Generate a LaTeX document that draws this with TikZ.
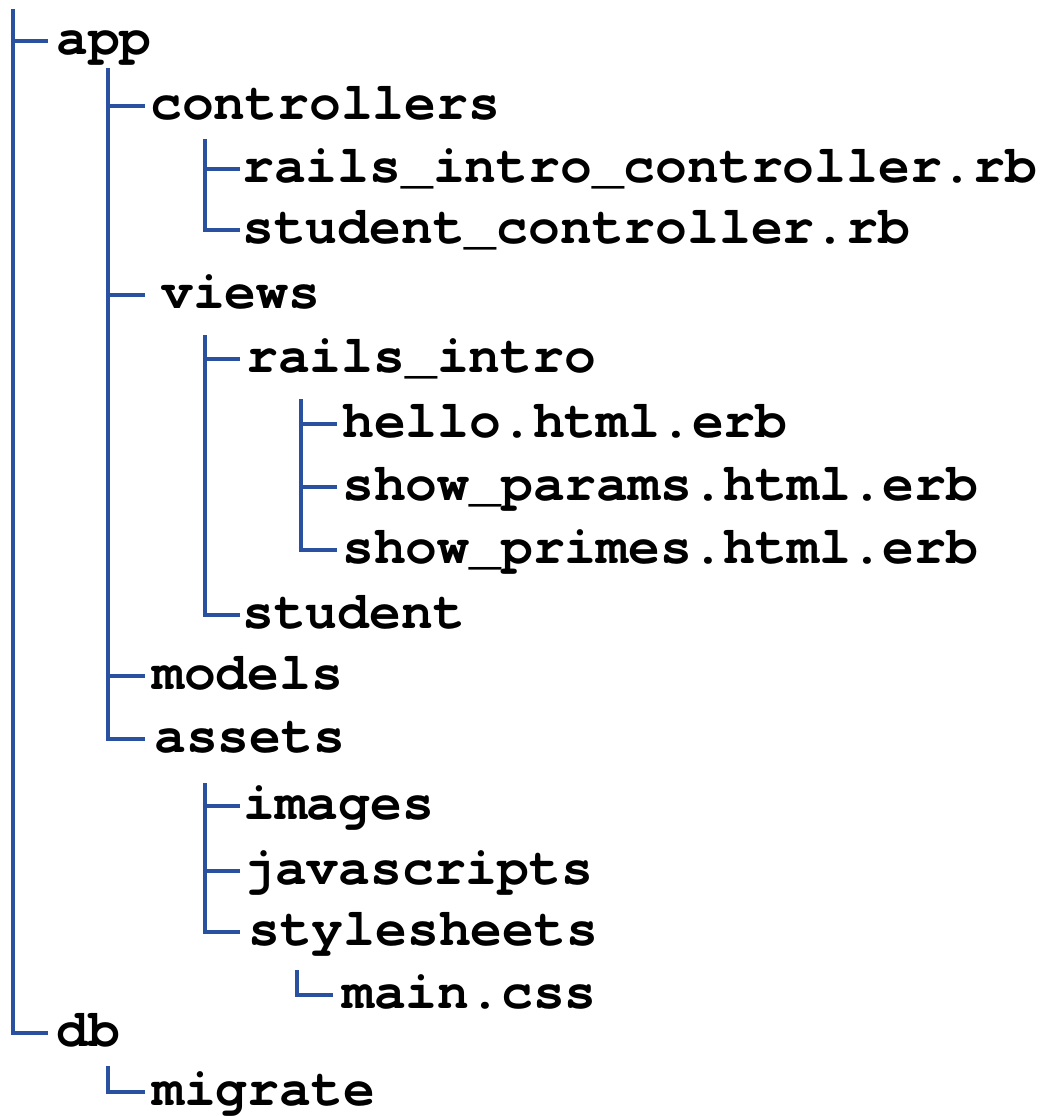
\documentclass[tikz,border=0pt]{standalone}
\usepackage{fontspec}
\setmonofont{texgyrecursor}[Extension=.otf,UprightFont=*-regular,BoldFont=*-bold]
\definecolor{treeblue}{HTML}{2A50A0}
\begin{document}
\begin{tikzpicture}[x=1pt,y=-1pt,
  item/.style={anchor=west,inner ysep=0pt,inner xsep=3pt,text height=37pt,text depth=10.5pt,
    font=\ttfamily\bfseries\fontsize{53}{60}\selectfont},
  branch/.style={draw=treeblue,line width=3.2pt,line join=miter}]
\useasboundingbox (0,0) rectangle (1046,1116);
% trunk tops
\coordinate (t0) at (13,9);
\coordinate (t1) at (108,68);
\coordinate (t2) at (205,139);
\coordinate (t3) at (205,335);
\coordinate (t4) at (301,399);
\coordinate (t5) at (205,783);
\coordinate (t6) at (297,970);
\coordinate (t7) at (108,1066);
% items
\node[item,inner xsep=8pt] (app) at (48,41) {app};
\node[item,inner xsep=5pt] (controllers) at (145,106) {controllers};
\node[item,inner xsep=2pt] (ric) at (240,169) {rails\_intro\_controller.rb};
\node[item,inner xsep=2pt] (sc) at (240,230) {student\_controller.rb};
\node[item,inner xsep=16pt] (views) at (145,295) {views};
\node[item,inner xsep=6pt] (ri) at (240,359) {rails\_intro};
\node[item,inner xsep=5pt] (hello) at (337,424) {hello.html.erb};
\node[item,inner xsep=5pt] (sp) at (337,487) {show\_params.html.erb};
\node[item,inner xsep=5pt] (spr) at (337,550) {show\_primes.html.erb};
\node[item,inner xsep=2pt] (student) at (240,615) {student};
\node[item,inner xsep=7pt] (models) at (145,676) {models};
\node[item,inner xsep=9pt] (assets) at (145,739) {assets};
\node[item,inner xsep=3pt] (images) at (240,806) {images};
\node[item,inner xsep=3pt] (js) at (240,871) {javascripts};
\node[item,inner xsep=8pt] (ss) at (240,932) {stylesheets};
\node[item,inner xsep=9pt] (css) at (333,995) {main.css};
\node[item,inner xsep=8pt] (db) at (48,1033) {db};
\node[item,inner xsep=7pt] (migrate) at (145,1092) {migrate};
% connectors
\draw[branch] (t0) |- (app.west);
\draw[branch] (t0) |- (db.west);
\draw[branch] (t1) |- (controllers.west);
\draw[branch] (t1) |- (views.west);
\draw[branch] (t1) |- (models.west);
\draw[branch] (t1) |- (assets.west);
\draw[branch] (t2) |- (ric.west);
\draw[branch] (t2) |- (sc.west);
\draw[branch] (t3) |- (ri.west);
\draw[branch] (t3) |- (student.west);
\draw[branch] (t4) |- (hello.west);
\draw[branch] (t4) |- (sp.west);
\draw[branch] (t4) |- (spr.west);
\draw[branch] (t5) |- (images.west);
\draw[branch] (t5) |- (js.west);
\draw[branch] (t5) |- (ss.west);
\draw[branch] (t6) |- (css.west);
\draw[branch] (t7) |- (migrate.west);
\end{tikzpicture}
\end{document}
